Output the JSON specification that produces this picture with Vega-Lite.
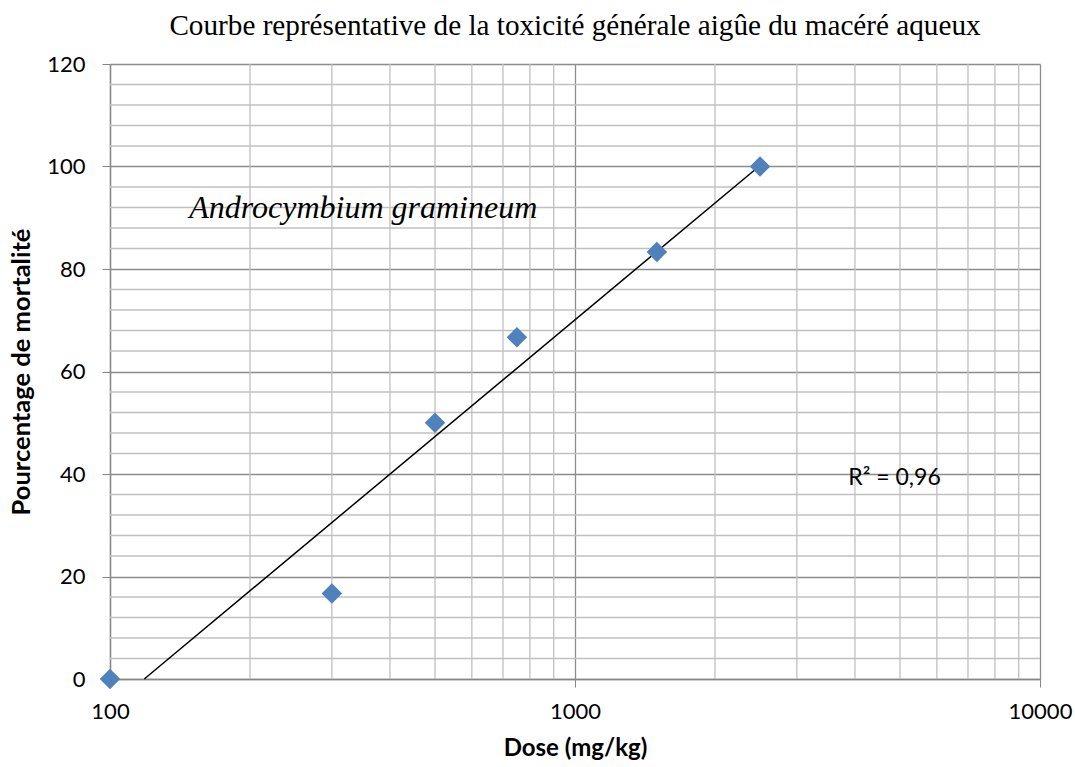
{
  "$schema": "https://vega.github.io/schema/vega-lite/v6.json",
  "width": 930,
  "height": 615,
  "autosize": {"type": "none"},
  "padding": {"left": 110, "top": 64, "right": 35, "bottom": 88},
  "background": "white",
  "title": {
    "text": "Courbe représentative de la toxicité générale aigûe du macéré aqueux",
    "font": "Liberation Serif",
    "fontSize": 29.2,
    "fontWeight": "normal",
    "color": "#000000",
    "anchor": "middle",
    "offset": 12
  },
  "config": {
    "view": {"stroke": null},
    "axis": {"labelFont": "Lato", "titleFont": "Lato", "labelColor": "#000000", "titleColor": "#000000"}
  },
  "datasets": {
    "points": [
      {"dose": 100, "pct": 0},
      {"dose": 300, "pct": 16.67},
      {"dose": 500, "pct": 50},
      {"dose": 750, "pct": 66.67},
      {"dose": 1500, "pct": 83.33},
      {"dose": 2500, "pct": 100}
    ],
    "trend": [
      {"dose": 118.5, "pct": 0},
      {"dose": 2500, "pct": 100.2}
    ],
    "xminor": [
      {"dose": 200}, {"dose": 300}, {"dose": 400}, {"dose": 500}, {"dose": 600}, {"dose": 700}, {"dose": 800}, {"dose": 900},
      {"dose": 2000}, {"dose": 3000}, {"dose": 4000}, {"dose": 5000}, {"dose": 6000}, {"dose": 7000}, {"dose": 8000}, {"dose": 9000}
    ],
    "yminor": [
      {"pct": 4}, {"pct": 8}, {"pct": 12}, {"pct": 16},
      {"pct": 24}, {"pct": 28}, {"pct": 32}, {"pct": 36},
      {"pct": 44}, {"pct": 48}, {"pct": 52}, {"pct": 56},
      {"pct": 64}, {"pct": 68}, {"pct": 72}, {"pct": 76},
      {"pct": 84}, {"pct": 88}, {"pct": 92}, {"pct": 96},
      {"pct": 104}, {"pct": 108}, {"pct": 112}, {"pct": 116}
    ],
    "notes": [
      {"dose": 148, "pct": 92, "label": "Androcymbium gramineum", "kind": "species"},
      {"dose": 3870, "pct": 39.2, "label": "R² = 0,96", "kind": "r2"}
    ]
  },
  "layer": [
    {
      "data": {"name": "xminor"},
      "mark": {"type": "rule", "color": "#c0c0c0", "strokeWidth": 1.3},
      "encoding": {
        "x": {
          "field": "dose", "type": "quantitative",
          "scale": {"type": "log", "domain": [100, 10000], "nice": false},
          "axis": {
            "values": [100, 1000, 10000],
            "format": "d",
            "title": "Dose (mg/kg)",
            "titleFontSize": 24,
            "titleFontWeight": "bold",
            "titlePadding": 14,
            "labelFontSize": 22,
            "labelPadding": 14,
            "grid": true,
            "gridColor": "#8c8c8c",
            "gridWidth": 1.3,
            "domainColor": "#868686",
            "domainWidth": 1.3,
            "tickColor": "#868686",
            "tickSize": 8,
            "labelFlush": false,
            "labelOverlap": false
          }
        }
      }
    },
    {
      "data": {"name": "yminor"},
      "mark": {"type": "rule", "color": "#c0c0c0", "strokeWidth": 1.3},
      "encoding": {
        "y": {
          "field": "pct", "type": "quantitative",
          "scale": {"domain": [0, 120], "nice": false},
          "axis": {
            "values": [0, 20, 40, 60, 80, 100, 120],
            "title": "Pourcentage de mortalité",
            "titleFontSize": 25.5,
            "titleFontWeight": "bold",
            "titlePadding": 12,
            "labelFontSize": 22,
            "labelPadding": 17,
            "grid": true,
            "gridColor": "#8c8c8c",
            "gridWidth": 1.3,
            "domainColor": "#868686",
            "domainWidth": 1.3,
            "tickColor": "#868686",
            "tickSize": 8
          }
        }
      }
    },
    {
      "data": {"name": "trend"},
      "mark": {"type": "line", "color": "#000000", "strokeWidth": 1.5},
      "encoding": {
        "x": {"field": "dose", "type": "quantitative", "scale": {"type": "log", "domain": [100, 10000], "nice": false}},
        "y": {"field": "pct", "type": "quantitative", "scale": {"domain": [0, 120], "nice": false}}
      }
    },
    {
      "data": {"name": "points"},
      "mark": {"type": "point", "shape": "diamond", "filled": true, "size": 420, "color": "#4f81bd", "opacity": 1},
      "encoding": {
        "x": {"field": "dose", "type": "quantitative", "scale": {"type": "log", "domain": [100, 10000], "nice": false}},
        "y": {"field": "pct", "type": "quantitative", "scale": {"domain": [0, 120], "nice": false}}
      }
    },
    {
      "data": {"name": "notes"},
      "transform": [{"filter": "datum.kind === 'species'"}],
      "mark": {"type": "text", "font": "Liberation Serif", "fontStyle": "italic", "fontSize": 32, "align": "left", "baseline": "middle", "color": "#000000"},
      "encoding": {
        "x": {"field": "dose", "type": "quantitative", "scale": {"type": "log", "domain": [100, 10000], "nice": false}},
        "y": {"field": "pct", "type": "quantitative", "scale": {"domain": [0, 120], "nice": false}},
        "text": {"field": "label"}
      }
    },
    {
      "data": {"name": "notes"},
      "transform": [{"filter": "datum.kind === 'r2'"}],
      "mark": {"type": "text", "font": "Lato", "fontSize": 23, "align": "left", "baseline": "middle", "color": "#000000"},
      "encoding": {
        "x": {"field": "dose", "type": "quantitative", "scale": {"type": "log", "domain": [100, 10000], "nice": false}},
        "y": {"field": "pct", "type": "quantitative", "scale": {"domain": [0, 120], "nice": false}},
        "text": {"field": "label"}
      }
    }
  ]
}
